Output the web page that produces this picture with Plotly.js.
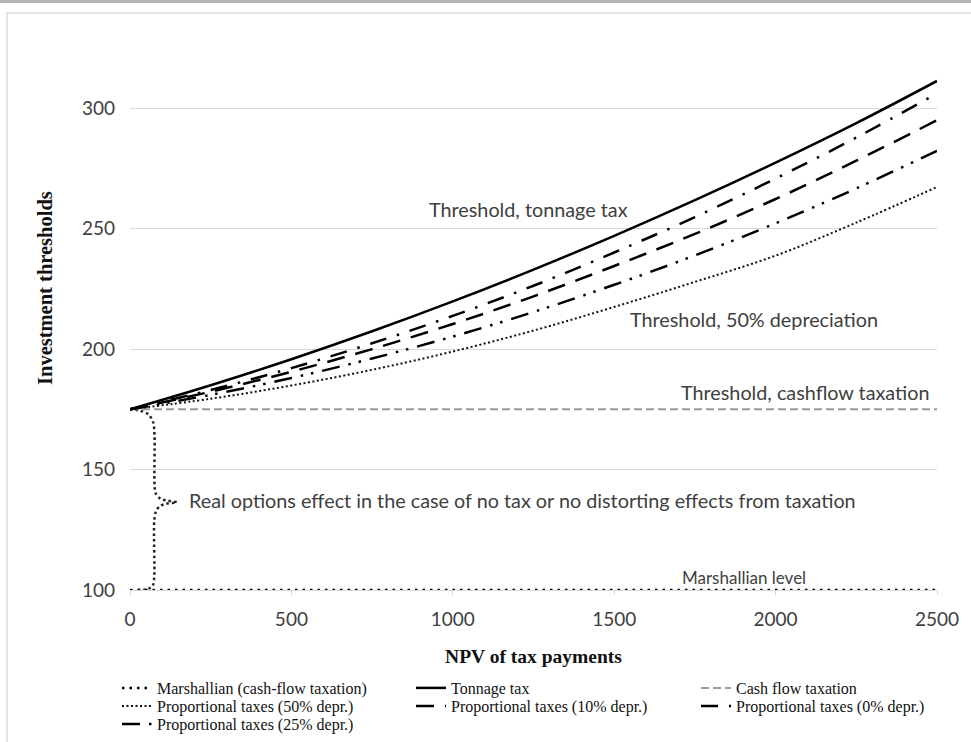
<!DOCTYPE html>
<html>
<head>
<meta charset="utf-8">
<script src="https://cdn.plot.ly/plotly-3.0.1.min.js"></script>
<style>html,body{margin:0;padding:0;background:#fff;}#chart{width:971px;height:742px;}</style>
</head>
<body>
<div id="chart"></div>
<script>
// NPV of tax payments (x values)
const npv = [0, 250, 500, 750, 1000, 1250, 1500, 1750, 2000, 2250, 2500];
// Investment thresholds
const tonnageTax   = [175, 185.0, 195.8, 207.4, 219.8, 233.0, 247.0, 261.8, 277.4, 293.8, 311.3];
const prop0Depr    = [175, 183.0, 192.1, 202.4, 213.8, 226.3, 240.1, 254.8, 270.8, 287.8, 306.1];
const prop10Depr   = [175, 182.3, 190.6, 200.0, 210.4, 221.9, 234.5, 247.8, 262.3, 278.2, 295.0];
const prop25Depr   = [175, 181.0, 188.0, 196.1, 205.2, 215.4, 226.7, 238.9, 252.2, 266.7, 282.3];
const prop50Depr   = [175, 179.4, 184.9, 191.4, 199.0, 207.7, 217.5, 227.9, 238.8, 252.5, 267.3];
const cashFlowTax  = [175, 175, 175, 175, 175, 175, 175, 175, 175, 175, 175];
const marshallian  = [100, 100, 100, 100, 100, 100, 100, 100, 100, 100, 100];
// Curly brace ("real options effect") drawn as dotted path
const braceX = [0, 30, 58, 72, 76, 76, 80, 95, 112, 145, 112, 92, 80, 75, 75, 71, 57, 22];
const braceY = [175, 174.5, 172.8, 169.5, 164, 143.5, 140, 137.8, 137.2, 136.4, 135.8, 134.8, 132.5, 128.5, 105, 102, 100.5, 100];
// Texts
const yTicks = [100, 150, 200, 250, 300];
const xTicks = [0, 500, 1000, 1500, 2000, 2500];
const xTitle = 'NPV of tax payments';
const yTitle = 'Investment thresholds';
const notes = [
  {text: 'Threshold, tonnage tax', x: 1233, y: 258.3, anchor: 'center', size: 19.8},
  {text: 'Threshold, 50% depreciation', x: 1933, y: 212.3, anchor: 'center', size: 19.8},
  {text: 'Threshold, cashflow taxation', x: 2090, y: 182.3, anchor: 'center', size: 19.8},
  {text: 'Real options effect in the case of no tax or no distorting effects from taxation', x: 178, y: 137.5, anchor: 'left', size: 19.8},
  {text: 'Marshallian level', x: 1902, y: 105.3, anchor: 'center', size: 17}
];

// plot area in pixels
const L = 130, R = 937, T = 60, B = 590;
const px = v => (v - L) / (R - L);
const py = v => (B - v) / (B - T);

// legend slot for each trace: column text start x and row centre y (pixels)
const colX = [117, 411, 696];
const rowY = [688, 706, 724];

const traces = [
  {x: npv, y: marshallian, name: 'Marshallian (cash-flow taxation)', legend: 'legend',
   line: {color: '#000', width: 2.5, dash: '2.5px,5px'}},
  {x: braceX, y: braceY, showlegend: false, legend: 'legend', hoverinfo: 'skip',
   line: {color: '#222', width: 2.5, dash: '2.5px,3px', shape: 'spline', smoothing: 0.8}},
  {x: npv, y: tonnageTax, name: 'Tonnage tax', legend: 'legend2',
   line: {color: '#000', width: 2.5, shape: 'spline'}},
  {x: npv, y: cashFlowTax, name: 'Cash flow taxation', legend: 'legend3',
   line: {color: '#9a9a9a', width: 2, dash: '8px,4px'}},
  {x: npv, y: prop50Depr, name: 'Proportional taxes (50% depr.)', legend: 'legend4',
   line: {color: '#111', width: 2, dash: '2px,2.5px', shape: 'spline'}},
  {x: npv, y: prop10Depr, name: 'Proportional taxes (10% depr.)', legend: 'legend5',
   line: {color: '#000', width: 2.5, dash: '18px,11px', shape: 'spline'}},
  {x: npv, y: prop0Depr, name: 'Proportional taxes (0% depr.)', legend: 'legend6',
   line: {color: '#000', width: 2.5, dash: '17px,11px,2.5px,11px', shape: 'spline'}},
  {x: npv, y: prop25Depr, name: 'Proportional taxes (25% depr.)', legend: 'legend7',
   line: {color: '#000', width: 2.5, dash: '18px,9px,2.5px,8px,2.5px,9px', shape: 'spline'}}
].map(t => Object.assign({type: 'scatter', mode: 'lines'}, t));

const legFont = {family: '"Liberation Serif", "Times New Roman", serif', size: 16, color: '#111'};
const mkLeg = (c, r) => ({orientation: 'v', yanchor: 'middle', xanchor: 'left',
  x: px(colX[c]), y: py(rowY[r]), font: legFont, bgcolor: 'rgba(0,0,0,0)',
  tracegroupgap: 0, itemwidth: 30, borderwidth: 0});
const titleFont = {family: '"Liberation Serif", "Times New Roman", serif', size: 19.5, color: '#111', weight: 'bold'};

const layout = {
  width: 971, height: 742,
  margin: {l: L, r: 971 - R, t: T, b: 742 - B, autoexpand: false},
  paper_bgcolor: '#fff', plot_bgcolor: '#fff',
  showlegend: true,
  xaxis: {
    range: [0, 2500], tickvals: xTicks, ticktext: xTicks.map(String), automargin: false,
    showgrid: false, zeroline: false, showline: true, linecolor: '#d6d6d6', linewidth: 1,
    ticks: 'outside', ticklen: 4, tickcolor: '#d6d6d6', ticklabelstandoff: 8,
    tickfont: {family: 'Lato, "Open Sans", sans-serif', size: 19, color: '#404040'},
    title: {text: xTitle, standoff: 20, font: titleFont}
  },
  yaxis: {
    range: [100, 320], tickvals: yTicks, ticktext: yTicks.map(String), automargin: false,
    showgrid: true, gridcolor: '#d9d9d9', gridwidth: 1, zeroline: false, showline: false,
    ticks: '', ticklabelstandoff: 14,
    tickfont: {family: 'Lato, "Open Sans", sans-serif', size: 19, color: '#404040'},
    title: {text: ''}
  },
  legend: mkLeg(0, 0),
  legend2: mkLeg(1, 0),
  legend3: mkLeg(2, 0),
  legend4: mkLeg(0, 1),
  legend5: mkLeg(1, 1),
  legend6: mkLeg(2, 1),
  legend7: mkLeg(0, 2),
  annotations: notes.map(n => ({
    text: n.text, x: n.x, y: n.y, xref: 'x', yref: 'y', showarrow: false,
    xanchor: n.anchor, yanchor: 'middle',
    font: {family: 'Lato, "Open Sans", sans-serif', size: n.size, color: '#404040'}
  })).concat([{
    text: yTitle, xref: 'paper', yref: 'paper', x: px(45), y: py(288),
    xanchor: 'center', yanchor: 'middle', textangle: -90, showarrow: false,
    font: Object.assign({}, titleFont, {size: 20.5})
  }]),
  shapes: [
    {type: 'rect', xref: 'paper', yref: 'paper', x0: px(-5), x1: px(980), y0: py(3), y1: py(-5),
      fillcolor: '#b3b3b3', line: {width: 0}, layer: 'above'},
    {type: 'line', xref: 'paper', yref: 'paper', x0: px(6), x1: px(980), y0: py(13), y1: py(13),
      line: {color: '#e3e3e3', width: 2}},
    {type: 'line', xref: 'paper', yref: 'paper', x0: px(7), x1: px(7), y0: py(13), y1: py(750),
      line: {color: '#e3e3e3', width: 2}}
  ]
};

Plotly.newPlot('chart', traces, layout, {staticPlot: true, displayModeBar: false});
</script>
</body>
</html>
